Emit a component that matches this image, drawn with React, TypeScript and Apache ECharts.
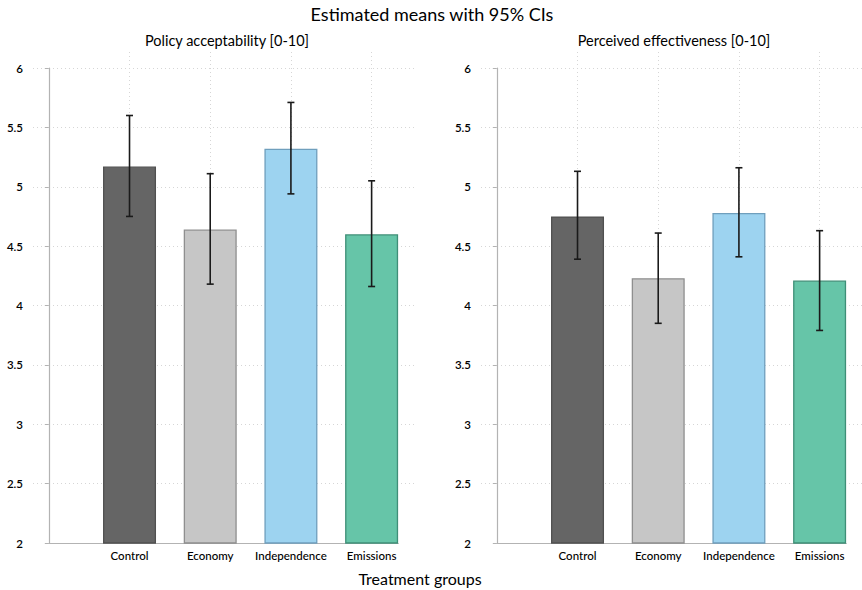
import React, { useEffect, useRef } from "react";
import * as echarts from "echarts";

const categories = ["Control", "Economy", "Independence", "Emissions"];
const categoryPositions = [1, 2, 3, 4];
const acceptMeans = [5.17, 4.64, 5.32, 4.6];
const acceptLow = [4.75, 4.18, 4.94, 4.16];
const acceptHigh = [5.6, 5.11, 5.71, 5.05];
const effectMeans = [4.75, 4.23, 4.78, 4.21];
const effectLow = [4.39, 3.85, 4.41, 3.79];
const effectHigh = [5.13, 4.61, 5.16, 4.63];
const yTicks = [2, 2.5, 3, 3.5, 4, 4.5, 5, 5.5, 6];
const xRange = [-0.196, 4.537];
const xAxisLineRange = [0, 4.33];

const fills = ["#656565", "#c6c6c6", "#9dd3f0", "#66c5a8"];
const borders = ["#505050", "#8f8f8f", "#6f9fbd", "#3f8f77"];
const FONT = "Lato, 'Open Sans', sans-serif";

export default function App() {
  const ref = useRef<HTMLDivElement>(null);
  useEffect(() => {
    document.body.style.margin = "0";
    const chart = echarts.init(ref.current!, undefined, { renderer: "svg" });
    const unit = 80.7;
    const panels = [
      { axisX: 33, means: acceptMeans, low: acceptLow, high: acceptHigh },
      { axisX: 481, means: effectMeans, low: effectLow, high: effectHigh },
    ];
    const grids: any[] = [];
    const xAxes: any[] = [];
    const yAxes: any[] = [];
    const series: any[] = [];
    const gridStyle = { color: "#d6d6d6", type: [1, 3] as any, width: 1 };
    panels.forEach((p, i) => {
      const zeroX = p.axisX - xRange[0] * unit;
      grids.push({
        left: p.axisX,
        top: 68,
        width: (xRange[1] - xRange[0]) * unit,
        height: 475,
        outerBoundsMode: "none",
      });
      grids.push({
        left: zeroX,
        top: 52,
        width: (xAxisLineRange[1] - xAxisLineRange[0]) * unit,
        height: 491,
        outerBoundsMode: "none",
      });
      xAxes.push({
        gridIndex: 2 * i,
        type: "value",
        min: xRange[0],
        max: xRange[1],
        show: false,
      });
      xAxes.push({
        gridIndex: 2 * i + 1,
        type: "value",
        min: xAxisLineRange[0],
        max: xAxisLineRange[1],
        interval: 1,
        axisLine: { show: true, lineStyle: { color: "#b3b3b3", width: 1.2 } },
        axisTick: { show: false },
        axisLabel: {
          margin: 6,
          fontSize: 11.5,
          color: "#000",
          fontFamily: FONT,
          fontWeight: 500,
          formatter: (v: number) => {
            const idx = categoryPositions.indexOf(v);
            return idx >= 0 ? categories[idx] : "";
          },
        },
        splitLine: { show: true, showMinLine: false, showMaxLine: false, lineStyle: gridStyle },
      });
      yAxes.push({
        gridIndex: 2 * i,
        type: "value",
        min: yTicks[0],
        max: yTicks[yTicks.length - 1],
        interval: 0.5,
        axisLine: { show: true, lineStyle: { color: "#b3b3b3", width: 1.2 } },
        axisTick: { show: true, length: 4, lineStyle: { color: "#b3b3b3" } },
        axisLabel: { margin: 10, fontSize: 11.5, color: "#000", fontFamily: FONT, fontWeight: 600 },
        splitLine: { show: true, showMinLine: false, lineStyle: gridStyle },
      });
      yAxes.push({
        gridIndex: 2 * i + 1,
        type: "value",
        min: 0,
        max: 1,
        show: false,
      });
      series.push({
        type: "bar",
        xAxisIndex: 2 * i,
        yAxisIndex: 2 * i,
        barWidth: 53,
        data: p.means.map((m, k) => ({
          value: [categoryPositions[k], m],
          itemStyle: { color: fills[k], borderColor: borders[k], borderWidth: 1.3 },
        })),
      });
      series.push({
        type: "custom",
        xAxisIndex: 2 * i,
        yAxisIndex: 2 * i,
        data: p.means.map((_, k) => [categoryPositions[k], p.low[k], p.high[k]]),
        renderItem: (params: any, api: any) => {
          const x = api.value(0);
          const lo = api.coord([x, api.value(1)]);
          const hi = api.coord([x, api.value(2)]);
          const st = { stroke: "#1a1a1a", lineWidth: 1.6 };
          const cap = 3.5;
          return {
            type: "group",
            children: [
              { type: "line", shape: { x1: lo[0], y1: lo[1], x2: hi[0], y2: hi[1] }, style: st },
              { type: "line", shape: { x1: lo[0] - cap, y1: lo[1], x2: lo[0] + cap, y2: lo[1] }, style: st },
              { type: "line", shape: { x1: hi[0] - cap, y1: hi[1], x2: hi[0] + cap, y2: hi[1] }, style: st },
            ],
          };
        },
        z: 3,
      });
    });

    chart.setOption({
      animation: false,
      backgroundColor: "#ffffff",
      title: [
        {
          text: "Estimated means with 95% CIs",
          left: 427,
          top: 0,
          textAlign: "center",
          textStyle: { fontSize: 18, fontWeight: "normal", color: "#000", fontFamily: FONT },
        },
        {
          text: "Policy acceptability [0-10]",
          left: 222,
          top: 28,
          textAlign: "center",
          textStyle: { fontSize: 14.5, fontWeight: "normal", color: "#000", fontFamily: FONT },
        },
        {
          text: "Perceived effectiveness [0-10]",
          left: 669,
          top: 28,
          textAlign: "center",
          textStyle: { fontSize: 14.5, fontWeight: "normal", color: "#000", fontFamily: FONT },
        },
        {
          text: "Treatment groups",
          left: 415,
          top: 565,
          textAlign: "center",
          textStyle: { fontSize: 16, fontWeight: "normal", color: "#000", fontFamily: FONT },
        },
      ],
      grid: grids,
      xAxis: xAxes,
      yAxis: yAxes,
      series,
    });
    return () => chart.dispose();
  }, []);
  return <div ref={ref} style={{ position: "absolute", left: 0, top: 0, width: 862, height: 590 }} />;
}
